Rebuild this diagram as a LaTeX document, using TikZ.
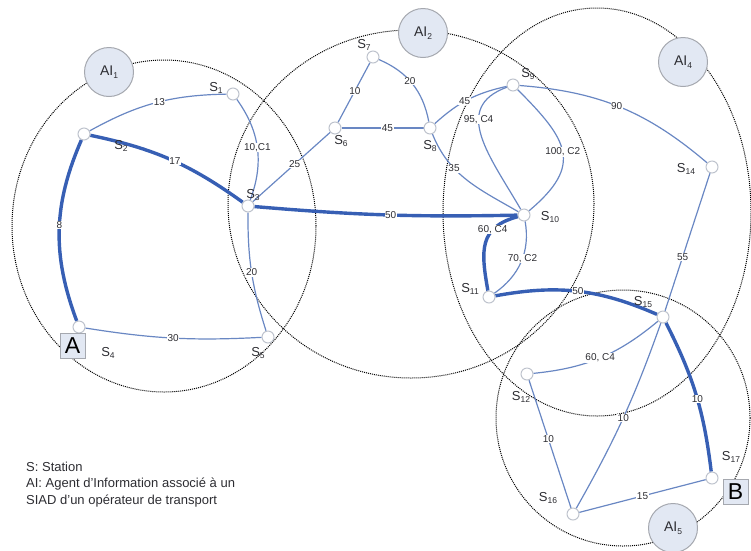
\documentclass[tikz,border=0pt]{standalone}
\usepackage{fontspec}
\setmainfont{Liberation Sans}
\definecolor{thinc}{RGB}{105,135,195}
\definecolor{thickc}{RGB}{55,95,180}
\definecolor{aifill}{RGB}{226,232,243}
\definecolor{aidraw}{RGB}{165,168,175}
\definecolor{stdraw}{RGB}{190,195,205}
\definecolor{txt}{RGB}{45,45,50}
\newcommand\Sn[1]{S\raisebox{-0.22em}{\fontsize{8.5}{8.5}\selectfont #1}}
\newcommand\AIn[1]{AI\raisebox{-0.22em}{\fontsize{8.5}{8.5}\selectfont #1}}
\pgfdeclarelayer{bg}
\pgfsetlayers{bg,main}
\begin{document}
\begin{tikzpicture}[x=1pt,y=-1pt,
 zone/.style={draw=black, line width=1pt, dash pattern=on 1pt off 1pt},
 thinedge/.style={draw=thinc, line width=1.2pt},
 thickedge/.style={draw=thickc, line width=3.4pt},
 station/.style={circle, draw=stdraw, fill=white, line width=1pt, minimum size=12pt, inner sep=0pt},
 slab/.style={font=\fontsize{13}{13}\selectfont, text=txt, inner sep=0pt},
 elab/.style={font=\fontsize{10}{10}\selectfont, text=txt, fill=white, inner sep=0.6pt},
 agent/.style={circle, draw=aidraw, fill=aifill, line width=1pt, minimum size=49pt, inner sep=0pt, font=\fontsize{14}{14}\selectfont, text=txt},
 endbox/.style={draw=aidraw, fill=aifill, line width=0.8pt, minimum size=25pt, inner sep=0pt, font=\fontsize{23}{23}\selectfont},
 legtext/.style={font=\fontsize{13}{13}\selectfont, text=txt, inner sep=0pt, anchor=base west}]
\useasboundingbox (0,0) rectangle (751,550);

% stations
\node[station] (s1) at (233,94) {};
\node[station] (s2) at (84,134) {};
\node[station] (s3) at (248,206) {};
\node[station] (s4) at (79,327) {};
\node[station] (s5) at (268,337) {};
\node[station] (s6) at (335,128) {};
\node[station] (s7) at (373,57) {};
\node[station] (s8) at (430,128) {};
\node[station] (s9) at (513,85) {};
\node[station] (s10) at (524,215) {};
\node[station] (s11) at (489,297) {};
\node[station] (s12) at (527,374) {};
\node[station] (s14) at (712,167) {};
\node[station] (s15) at (663,317) {};
\node[station] (s16) at (573,514) {};
\node[station] (s17) at (712,478) {};

\begin{pgfonlayer}{bg}
% zones
\draw[zone] (164,226) ellipse [x radius=152pt, y radius=166pt];
\draw[zone] (411,204) ellipse [x radius=183pt, y radius=174pt];
\draw[zone] (597,212) ellipse [x radius=154pt, y radius=204pt];
\draw[zone] (623,418) ellipse [x radius=127pt, y radius=128pt];
% edges
\draw[thinedge] (s2) to[bend left=14] node[elab,pos=0.53]{13} (s1);
\draw[thickedge] (s2) to[bend left=12] node[elab,pos=0.53]{17} (s3);
\draw[thickedge] (s2) to[bend right=22] node[elab,pos=0.47]{8} (s4);
\draw[thinedge] (s1) to[bend left=28] node[elab]{10,C1} (s3);
\draw[thinedge] (s3) to[bend right=9] node[elab]{20} (s5);
\draw[thinedge] (s4) to[bend right=6] node[elab]{30} (s5);
\draw[thinedge] (s3) -- node[elab,pos=0.54]{25} (s6);
\draw[thinedge] (s6) -- node[elab,pos=0.53]{10} (s7);
\draw[thinedge] (s7) to[bend left=28] node[elab,pos=0.45]{20} (s8);
\draw[thinedge] (s6) -- node[elab,pos=0.56]{45} (s8);
\draw[thinedge] (s8) to[bend left=15] node[elab,pos=0.45]{45} (s9);
\draw[thinedge] (s8) to[out=-68,in=150] node[elab,pos=0.34]{35} (s10);
\draw[thickedge] (s3) to[bend right=3] node[elab,pos=0.52]{50} (s10);
\draw[thinedge] (s9) to[out=200,in=120,looseness=1.25] node[elab,pos=0.36]{95, C4} (s10);
\draw[thinedge] (s9) to[out=-45,in=40,looseness=1.5] node[elab,pos=0.5]{100, C2} (s10);
\draw[thinedge] (s9) to[bend left=18] node[elab,pos=0.48]{90} (s14);
\draw[thinedge] (s14) -- node[elab,pos=0.61]{55} (s15);
\draw[thickedge] (s10) to[out=195,in=100,looseness=1.3] node[elab,pos=0.3]{60, C4} (s11);
\draw[thinedge] (s10) to[out=-80,in=35] node[elab,pos=0.45]{70, C2} (s11);
\draw[thickedge] (s11) to[bend left=17] node[elab,pos=0.5]{50} (s15);
\draw[thickedge] (s15) to[bend left=10] node[elab,pos=0.53]{10} (s17);
\draw[thinedge] (s15) to[bend left=17] node[elab]{60, C4} (s12);
\draw[thinedge] (s15) to[bend left=5] node[elab]{10} (s16);
\draw[thinedge] (s12) -- node[elab,pos=0.46]{10} (s16);
\draw[thinedge] (s16) -- node[elab]{15} (s17);
\end{pgfonlayer}

% agents
\node[agent] (ai1) at (109,72) {\AIn{1}};
\node[agent] (ai2) at (423,33) {\AIn{2}};
\node[agent] (ai4) at (683,62) {\AIn{4}};
\node[agent] (ai5) at (673,528) {\AIn{5}};

% end boxes
\node[endbox] (boxA) at (72.5,345.5) {A};
\node[endbox] (boxB) at (735.5,491.5) {B};

% station labels
\node[slab] (l1) at (216,88) {\Sn{1}};
\node[slab] (l2) at (121,146) {\Sn{2}};
\node[slab] (l3) at (253,195) {\Sn{3}};
\node[slab] (l4) at (108,353) {\Sn{4}};
\node[slab] (l5) at (258,353) {\Sn{5}};
\node[slab] (l6) at (341,141) {\Sn{6}};
\node[slab] (l7) at (364,45) {\Sn{7}};
\node[slab] (l8) at (430,146) {\Sn{8}};
\node[slab] (l9) at (528,74) {\Sn{9}};
\node[slab] (l10) at (550,217) {\Sn{10}};
\node[slab] (l11) at (470,289) {\Sn{11}};
\node[slab] (l12) at (521,397) {\Sn{12}};
\node[slab] (l14) at (686,169) {\Sn{14}};
\node[slab] (l15) at (643,302) {\Sn{15}};
\node[slab] (l16) at (548,498) {\Sn{16}};
\node[slab] (l17) at (731,457) {\Sn{17}};

% legend
\node[legtext] (leg1) at (26,471.5) {S: Station};
\node[legtext] (leg2) at (26,487.5) {AI: Agent d'Information associé à un};
\node[legtext] (leg3) at (26,504) {SIAD d'un opérateur de transport};
\end{tikzpicture}
\end{document}
